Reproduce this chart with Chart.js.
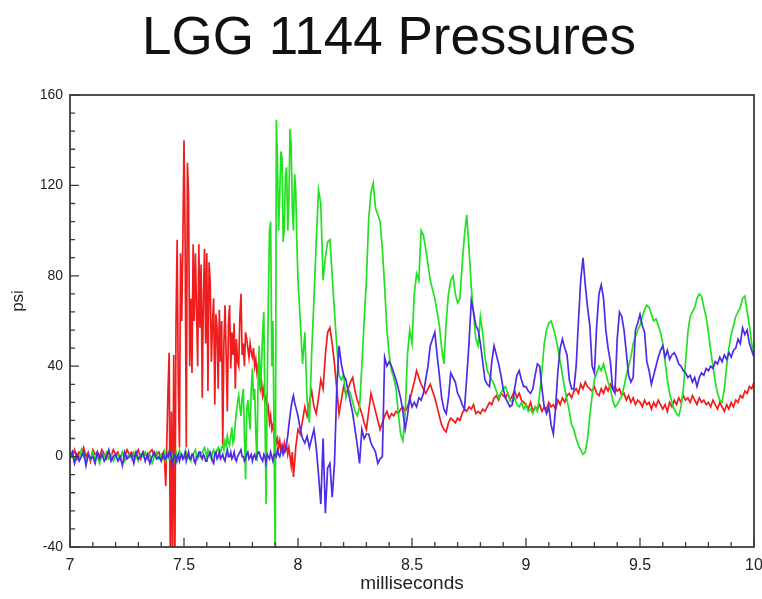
<!DOCTYPE html>
<html>
<head>
<meta charset="utf-8">
<title>LGG 1144 Pressures</title>
<script src="https://cdn.jsdelivr.net/npm/chart.js@4.4.1/dist/chart.umd.min.js"></script>
<style>
    html, body { margin: 0; padding: 0; background: #fff; }
    #wrap { width: 762px; height: 599px; }
</style>
</head>
<body>
<div id="wrap"><canvas id="grafico" width="762" height="599"></canvas></div>
<script>
// Tiempo de muestreo (ms): cada 0.01 ms, y cada 0.005 ms entre 7.4 y 8.0
const timeMs = [
    7.00, 7.01, 7.02, 7.03, 7.04, 7.05, 7.06, 7.07, 7.08, 7.09,
    7.10, 7.11, 7.12, 7.13, 7.14, 7.15, 7.16, 7.17, 7.18, 7.19,
    7.20, 7.21, 7.22, 7.23, 7.24, 7.25, 7.26, 7.27, 7.28, 7.29,
    7.30, 7.31, 7.32, 7.33, 7.34, 7.35, 7.36, 7.37, 7.38, 7.39,
    7.400, 7.405, 7.410, 7.415, 7.420, 7.425, 7.430, 7.435, 7.440, 7.445,
    7.450, 7.455, 7.460, 7.465, 7.470, 7.475, 7.480, 7.485, 7.490, 7.495,
    7.500, 7.505, 7.510, 7.515, 7.520, 7.525, 7.530, 7.535, 7.540, 7.545,
    7.550, 7.555, 7.560, 7.565, 7.570, 7.575, 7.580, 7.585, 7.590, 7.595,
    7.600, 7.605, 7.610, 7.615, 7.620, 7.625, 7.630, 7.635, 7.640, 7.645,
    7.650, 7.655, 7.660, 7.665, 7.670, 7.675, 7.680, 7.685, 7.690, 7.695,
    7.700, 7.705, 7.710, 7.715, 7.720, 7.725, 7.730, 7.735, 7.740, 7.745,
    7.750, 7.755, 7.760, 7.765, 7.770, 7.775, 7.780, 7.785, 7.790, 7.795,
    7.800, 7.805, 7.810, 7.815, 7.820, 7.825, 7.830, 7.835, 7.840, 7.845,
    7.850, 7.855, 7.860, 7.865, 7.870, 7.875, 7.880, 7.885, 7.890, 7.895,
    7.900, 7.905, 7.910, 7.915, 7.920, 7.925, 7.930, 7.935, 7.940, 7.945,
    7.950, 7.955, 7.960, 7.965, 7.970, 7.975, 7.980, 7.985, 7.990, 7.995,
    8.00, 8.01, 8.02, 8.03, 8.04, 8.05, 8.06, 8.07, 8.08, 8.09,
    8.10, 8.11, 8.12, 8.13, 8.14, 8.15, 8.16, 8.17, 8.18, 8.19,
    8.20, 8.21, 8.22, 8.23, 8.24, 8.25, 8.26, 8.27, 8.28, 8.29,
    8.30, 8.31, 8.32, 8.33, 8.34, 8.35, 8.36, 8.37, 8.38, 8.39,
    8.40, 8.41, 8.42, 8.43, 8.44, 8.45, 8.46, 8.47, 8.48, 8.49,
    8.50, 8.51, 8.52, 8.53, 8.54, 8.55, 8.56, 8.57, 8.58, 8.59,
    8.60, 8.61, 8.62, 8.63, 8.64, 8.65, 8.66, 8.67, 8.68, 8.69,
    8.70, 8.71, 8.72, 8.73, 8.74, 8.75, 8.76, 8.77, 8.78, 8.79,
    8.80, 8.81, 8.82, 8.83, 8.84, 8.85, 8.86, 8.87, 8.88, 8.89,
    8.90, 8.91, 8.92, 8.93, 8.94, 8.95, 8.96, 8.97, 8.98, 8.99,
    9.00, 9.01, 9.02, 9.03, 9.04, 9.05, 9.06, 9.07, 9.08, 9.09,
    9.10, 9.11, 9.12, 9.13, 9.14, 9.15, 9.16, 9.17, 9.18, 9.19,
    9.20, 9.21, 9.22, 9.23, 9.24, 9.25, 9.26, 9.27, 9.28, 9.29,
    9.30, 9.31, 9.32, 9.33, 9.34, 9.35, 9.36, 9.37, 9.38, 9.39,
    9.40, 9.41, 9.42, 9.43, 9.44, 9.45, 9.46, 9.47, 9.48, 9.49,
    9.50, 9.51, 9.52, 9.53, 9.54, 9.55, 9.56, 9.57, 9.58, 9.59,
    9.60, 9.61, 9.62, 9.63, 9.64, 9.65, 9.66, 9.67, 9.68, 9.69,
    9.70, 9.71, 9.72, 9.73, 9.74, 9.75, 9.76, 9.77, 9.78, 9.79,
    9.80, 9.81, 9.82, 9.83, 9.84, 9.85, 9.86, 9.87, 9.88, 9.89,
    9.90, 9.91, 9.92, 9.93, 9.94, 9.95, 9.96, 9.97, 9.98, 9.99,
    10.00
];

// Presiones (psi)
const redPsi = [
    2, 0, 3, -1, 2, 1, 4, 0, 2, -2,
    3, 1, 2, 0, 3, 1, -1, 2, 0, 3,
    1, 2, -1, 2, 0, 3, 1, 2, 0, 1,
    3, -1, 2, 1, 0, 2, 3, 0, 1, 2,
    -1, 1, 2, -2, -13, 8, 30, 46, -48, 20,
    -48, 45, -48, 60, 96, 30, 4, 90, 60, 95,
    140, 95, 4, 130, 116, 40, 70, 37, 94, 60,
    90, 66, 40, 94, 57, 85, 26, 70, 92, 50,
    90, 29, 86, 77, 42, 59, 70, 23, 63, 57,
    30, 65, 42, 60, 5, 50, 67, 45, 20, 59,
    67, 39, 55, 45, 59, 30, 52, 42, 40, 62,
    72, 45, 50, 40, 55, 52, 48, 44, 50, 46,
    44, 48, 40, 43, 37, 40, 35, 30, 33, 27,
    30, 24, 26, 20, 22, 15, 18, 12, 14, 9,
    10, 6, 8, 4, 7, 3, 5, 2, 6, 3,
    5, 1, 4, 0, -4, 2, -9, -3, 4, 8,
    12, 10, 16, 22, 18, 24, 29, 22, 19, 26,
    34, 30, 45, 55, 57, 50, 41, 30, 19, 25,
    31, 28, 30, 33, 35, 29, 25, 22, 19, 15,
    12, 20, 28, 24, 20, 16, 12, 15, 18, 20,
    17, 19, 18, 20, 19, 21, 22, 20, 22, 25,
    29, 33, 38, 35, 32, 30, 28, 30, 32, 29,
    26, 22, 18, 14, 12, 11, 15, 17, 16, 15,
    17, 16, 19, 21, 20, 22, 21, 23, 19, 20,
    19, 21, 20, 22, 24, 23, 26, 27, 25, 28,
    27, 26, 28, 25, 27, 29, 26, 28, 25, 24,
    23, 21, 24, 20, 22, 21, 23, 20, 22, 21,
    24, 22, 23, 21, 25, 23, 26, 24, 27, 28,
    26, 29, 30, 28, 32, 30, 33, 31, 30, 29,
    31, 28, 27, 30, 28, 31, 29, 32, 30, 31,
    29, 30, 27, 28, 25, 27, 24, 26, 23, 25,
    24, 22, 25, 23, 24, 21, 24, 22, 25, 23,
    21, 23, 20, 24, 22, 25, 23, 26, 24, 27,
    25, 26, 24, 27, 25, 23, 26, 24, 25, 23,
    24, 22, 25, 23, 21, 24, 22, 20, 23, 21,
    24, 22, 25, 24, 27, 26, 29, 28, 31, 30,
    33
];

const greenPsi = [
    0, 2, -2, 1, -1, 3, 0, -2, 1, -1,
    2, -1, 0, -3, 1, 0, 2, -1, 1, -2,
    0, 1, -1, 2, -2, 0, 1, -1, 2, 0,
    -2, 1, 0, 2, -1, 1, -3, 0, 2, -1,
    1, -1, 0, 2, -2, 0, 2, -1, -1, 1,
    0, -2, 1, 2, -2, 0, 3, 1, 0, -1,
    -1, 1, 2, 0, 0, -1, -2, 1, 1, 2,
    3, 0, -1, 1, 0, 2, 2, 3, 4, 2,
    0, 3, 2, 0, -1, 2, 3, 1, 1, 3,
    4, 2, 2, 4, 5, 3, 7, 5, 9, 6,
    5, 9, 13, 6, 8, 15, 20, 24, 27, 22,
    18, 26, 30, 10, -10, 20, 25, 18, 12, 30,
    39, 25, 30, 10, -2, 35, 49, 30, 40, 55,
    64, 20, -21, 30, 70, 100, 104, 40, 60, 10,
    -48, 149, 130, 100, 116, 135, 132, 95, 101, 125,
    128, 100, 113, 145, 138, 110, 100, 125, 118, 95,
    78, 60, 41, 55, 25, 15, 46, 70, 95, 118,
    112, 78, 88, 95, 96, 80, 64, 49, 36, 34,
    36, 26, 30, 28, 24, 20, 18, 22, 40, 60,
    78, 105, 117, 121, 110, 107, 104, 92, 75, 56,
    45, 38, 35, 30, 19, 10, 7, 19, 45, 56,
    50, 72, 81, 78, 100, 98, 92, 85, 78, 74,
    70, 64, 58, 48, 41, 60, 72, 78, 80, 72,
    68, 70, 85, 98, 107, 92, 75, 63, 52, 49,
    62, 55, 44, 38, 36, 34, 32, 29, 26, 28,
    30, 31, 28, 25, 24, 26, 23, 22, 24, 21,
    23, 20, 21, 19, 22, 20, 28, 38, 50, 56,
    59, 60, 57, 53, 48, 42, 36, 30, 25, 20,
    14, 12, 8, 5, 3, 1, 2, 8, 18, 27,
    34, 37, 40, 38, 41, 37, 33, 30, 25, 22,
    23, 25, 27, 31, 36, 40, 44, 50, 53, 56,
    58, 62, 65, 67, 66, 63, 60, 61, 58, 55,
    50, 42, 34, 28, 24, 21, 19, 18, 22, 30,
    42, 55, 62, 64, 66, 70, 72, 71, 66, 62,
    55, 47, 40, 33, 28, 25, 24, 30, 40, 48,
    54, 58, 62, 64, 66, 70, 71, 64, 58, 50,
    46
];

const bluePsi = [
    -1, 2, -3, 1, -2, 0, 2, -4, 1, -1,
    0, -3, 2, -1, 1, -2, 0, 3, -2, 0,
    1, -2, 0, -4, 2, -1, 0, 1, -3, 2,
    -1, 0, 2, -2, 1, -3, 0, 2, -1, 0,
    -2, 0, 1, -1, -1, 1, 0, 2, 2, -1,
    -3, 0, 1, -2, 0, 1, -2, 0, 1, -1,
    0, 2, -2, 0, 2, -1, -1, 1, 1, -2,
    -3, 0, 0, 2, 2, 0, -1, 1, 0, -2,
    -2, 0, 1, 2, 0, -2, -3, 1, 2, -1,
    0, 2, -1, 0, 1, -1, -2, 1, 3, 0,
    0, 2, -1, 0, 2, -1, -2, 0, 1, 2,
    3, 0, 0, -2, -1, 1, 2, -1, 0, 1,
    -2, 0, 1, -1, 0, 2, 2, 0, -1, -2,
    1, 0, -3, 1, 0, -1, 2, 0, -2, 1,
    1, 0, 3, 1, 0, 2, 4, 1, 2, 3,
    6, 9, 14, 18, 22, 25, 27, 24, 22, 20,
    18, 12, 8, 6, 9, 4, 8, 12, 4, -8,
    -21, 8, -25, -5, -3, -18, -3, 30, 49, 41,
    36, 34, 29, 24, 19, 12, 5, -3, 12, 8,
    10, 10, 6, 4, 2, -3, -1, 0, 44, 40,
    42, 40, 37, 34, 30, 26, 20, 12, 18, 26,
    22, 24, 22, 26, 25, 28, 34, 40, 49, 52,
    55, 45, 36, 26, 21, 19, 26, 37, 35, 33,
    28, 26, 23, 21, 35, 50, 69, 64, 58, 56,
    50, 42, 34, 32, 31, 42, 49, 45, 41, 36,
    30, 26, 24, 22, 23, 30, 36, 38, 34, 31,
    31, 29, 28, 30, 36, 41, 40, 30, 22, 19,
    22, 14, 10, 22, 38, 48, 52, 48, 45, 34,
    30, 30, 40, 60, 78, 88, 76, 66, 58, 40,
    37, 58, 72, 76, 70, 56, 48, 42, 30, 28,
    52, 64, 62, 56, 46, 36, 33, 35, 56, 59,
    63, 58, 55, 42, 38, 32, 36, 40, 44, 47,
    49, 44, 47, 43, 45, 46, 44, 41, 40, 38,
    37, 35, 36, 33, 35, 31, 35, 37, 36, 39,
    38, 40, 39, 42, 41, 44, 42, 45, 43, 46,
    44, 47, 48, 52, 50, 57, 54, 56, 50, 47,
    44
];

// Marcas de los ejes
const xMajorTicks = [7, 7.5, 8, 8.5, 9, 9.5, 10];
const xMinorTicks = [7, 7.1, 7.2, 7.3, 7.4, 7.5, 7.6, 7.7, 7.8, 7.9,
    8, 8.1, 8.2, 8.3, 8.4, 8.5, 8.6, 8.7, 8.8, 8.9,
    9, 9.1, 9.2, 9.3, 9.4, 9.5, 9.6, 9.7, 9.8, 9.9, 10];
const yMajorTicks = [-40, 0, 40, 80, 120, 160];
const yMinorTicks = [-40, -32, -24, -16, -8, 0, 8, 16, 24, 32, 40, 48, 56, 64, 72,
    80, 88, 96, 104, 112, 120, 128, 136, 144, 152, 160];

const fuente = "Liberation Sans, Arial, sans-serif";

function serie(valores) {
    return timeMs.map((t, i) => ({ x: t, y: valores[i] }));
}

// Marco, marcas hacia dentro y título vertical
const marcoEjes = {
    id: "marcoEjes",
    afterDatasetsDraw(chart) {
        const { ctx, chartArea: area, scales } = chart;
        ctx.save();
        ctx.strokeStyle = "#3c3c3c";
        ctx.lineWidth = 1.3;
        ctx.beginPath();
        xMinorTicks.forEach(v => {
            const px = scales.x.getPixelForValue(v);
            const len = xMajorTicks.includes(v) ? 9 : 5;
            ctx.moveTo(px, area.bottom);
            ctx.lineTo(px, area.bottom - len);
        });
        yMinorTicks.forEach(v => {
            const py = scales.y.getPixelForValue(v);
            const len = yMajorTicks.includes(v) ? 9 : 5;
            ctx.moveTo(area.left, py);
            ctx.lineTo(area.left + len, py);
        });
        ctx.stroke();
        ctx.lineWidth = 1.8;
        ctx.strokeRect(area.left, area.top, area.right - area.left, area.bottom - area.top);

        ctx.translate(18, 301);
        ctx.rotate(-Math.PI / 2);
        ctx.fillStyle = "#222";
        ctx.font = "17px " + fuente;
        ctx.textAlign = "center";
        ctx.textBaseline = "middle";
        ctx.fillText("psi", 0, 0);
        ctx.restore();
    }
};

const linea = (label, valores, color, orden) => ({
    label,
    data: serie(valores),
    borderColor: color,
    borderWidth: 1.7,
    pointRadius: 0,
    tension: 0,
    fill: false,
    order: orden
});

new Chart(document.getElementById("grafico"), {
    type: "line",
    data: {
        datasets: [
            linea("Rojo", redPsi, "#ef1d1d", 3),
            linea("Verde", greenPsi, "#22e022", 2),
            linea("Azul", bluePsi, "#4e2be6", 1)
        ]
    },
    options: {
        responsive: false,
        animation: false,
        devicePixelRatio: 1,
        layout: { padding: { left: 24, right: 8, top: 0, bottom: 0 } },
        plugins: {
            legend: { display: false },
            tooltip: { enabled: false },
            title: {
                display: true,
                text: "LGG 1144 Pressures",
                color: "#111",
                font: { family: fuente, size: 53, weight: "normal", lineHeight: 1 },
                padding: { top: 13, bottom: 29 }
            }
        },
        scales: {
            x: {
                type: "linear",
                min: 7,
                max: 10,
                grid: { display: false, drawTicks: false },
                border: { display: false },
                ticks: {
                    stepSize: 0.5,
                    padding: 9,
                    color: "#222",
                    font: { family: fuente, size: 16 },
                    callback: v => String(v)
                },
                title: {
                    display: true,
                    text: "milliseconds",
                    color: "#222",
                    font: { family: fuente, size: 19 },
                    padding: { top: 0, bottom: 4 }
                },
                afterFit(scale) {
                    scale.height = 52;
                    scale.paddingRight = 0;
                }
            },
            y: {
                min: -40,
                max: 160,
                grid: { display: false, drawTicks: false },
                border: { display: false },
                ticks: {
                    stepSize: 40,
                    padding: 7,
                    color: "#222",
                    font: { family: fuente, size: 14 },
                    callback: v => String(v)
                },
                afterFit(scale) { scale.width = 46; }
            }
        }
    },
    plugins: [marcoEjes]
});
</script>
</body>
</html>
